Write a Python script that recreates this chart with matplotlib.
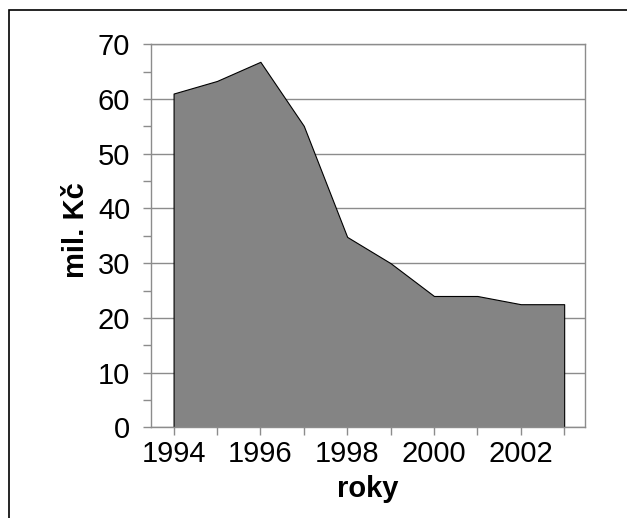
import numpy as np
import matplotlib
matplotlib.use("Agg")
import matplotlib.pyplot as plt
from matplotlib.patches import Rectangle

years = [1994, 1995, 1996, 1997, 1998, 1999, 2000, 2001, 2002, 2003]
values = [61, 63.3, 66.8, 55.1, 34.8, 30.0, 24.0, 24.0, 22.5, 22.5]
year_labels = ["1994", "1996", "1998", "2000", "2002"]

plt.rcParams['font.family'] = ['Liberation Sans', 'DejaVu Sans']

fig = plt.figure(figsize=(6.27, 5.18), dpi=100)
ax = fig.add_axes([151/627, 1-427.3/518, (585-151)/627, (427.3-44.3)/518])

# outer frame (cut off at right and bottom like the original)
fig.patches.append(Rectangle((8.5/627, -0.1), 1.2, 1-10/518+0.1, transform=fig.transFigure,
                             fill=False, edgecolor='black', linewidth=1.2))

ax.fill_between(years, values, 0, facecolor='#848484', edgecolor='black',
                linewidth=0.8, zorder=2)

ax.set_xlim(1993.48, 2003.48)
ax.set_ylim(0, 70)
ax.set_xticks(years)
ax.set_xticklabels([str(y) if str(y) in year_labels else "" for y in years])
ax.set_yticks(np.arange(0, 71, 10))
ax.set_yticks(np.arange(5, 70, 10), minor=True)

ax.grid(axis='y', color='#8c8c8c', linewidth=1.0, zorder=0)
ax.set_axisbelow(True)
for s in ['left', 'bottom', 'right', 'top']:
    ax.spines[s].set_color('#8c8c8c')
    ax.spines[s].set_linewidth(1.0)

ax.tick_params(axis='both', which='both', color='#8c8c8c', direction='out',
               length=6, width=1.0, labelsize=21, pad=3)
ax.tick_params(axis='y', which='major', pad=9)

ax.set_xlabel("roky", fontsize=21, fontweight='bold', labelpad=5)
ax.set_ylabel("mil. Kč", fontsize=21, fontweight='bold')
ax.yaxis.set_label_coords(-0.14, 0.515)

fig.savefig("out.png", dpi=100)
